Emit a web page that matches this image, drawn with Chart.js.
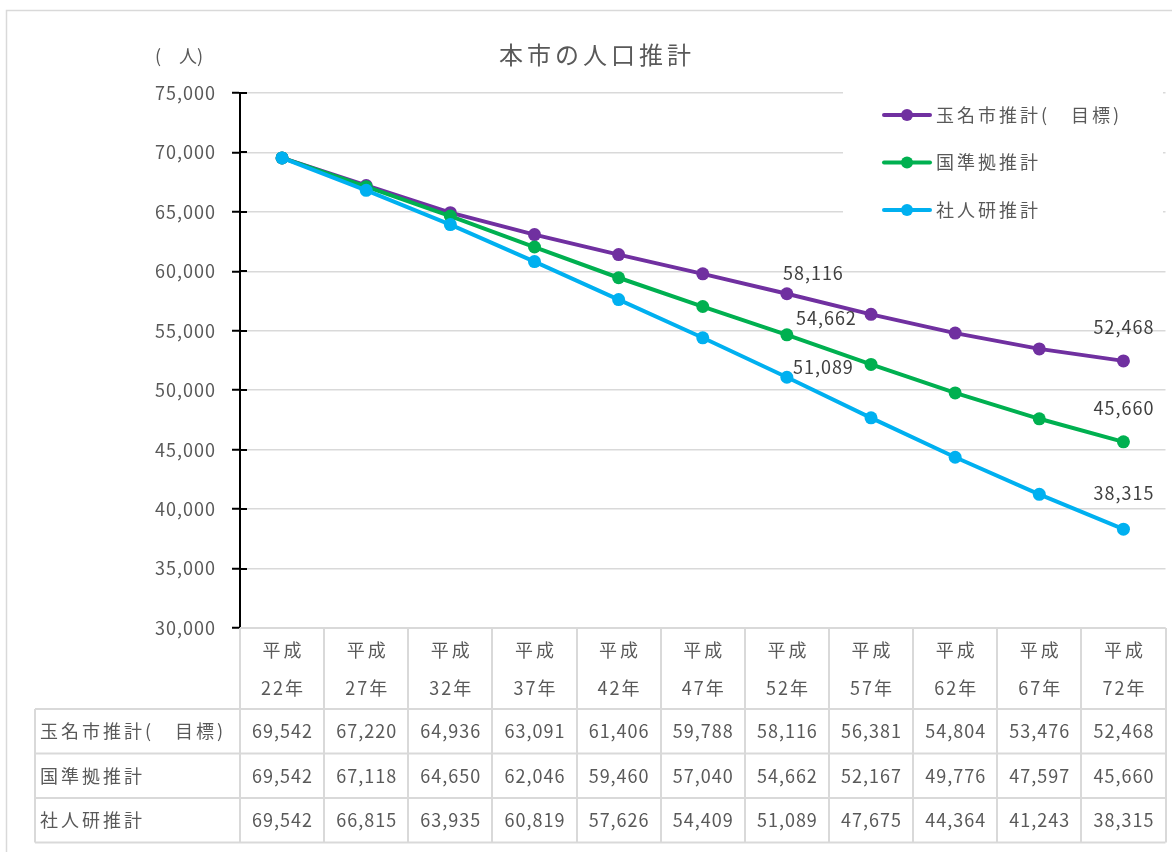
<!DOCTYPE html>
<html lang="ja">
<head>
<meta charset="utf-8">
<title>本市の人口推計</title>
<script src="https://cdn.jsdelivr.net/npm/chart.js@4.4.1/dist/chart.umd.min.js"></script>
<style>
  html, body { margin: 0; padding: 0; background: #fff; }
  #wrap { width: 1172px; height: 852px; position: relative; }
</style>
</head>
<body>
<div id="wrap"><canvas id="popChart" width="1172" height="852"></canvas></div>
<script>
// 年次（平成）
const categories = ['平成22年', '平成27年', '平成32年', '平成37年', '平成42年', '平成47年',
                    '平成52年', '平成57年', '平成62年', '平成67年', '平成72年'];

// 推計人口（人）
const seriesNames = ['玉名市推計(　目標)', '国準拠推計', '社人研推計'];
const tamanaTarget = [69542, 67220, 64936, 63091, 61406, 59788, 58116, 56381, 54804, 53476, 52468];
const nationalBase = [69542, 67118, 64650, 62046, 59460, 57040, 54662, 52167, 49776, 47597, 45660];
const ipssBase     = [69542, 66815, 63935, 60819, 57626, 54409, 51089, 47675, 44364, 41243, 38315];

// 値ラベルを付ける年次（平成52年・平成72年）
const labeledPoints = [6, 10];

// 縦軸目盛
const yTickValues = [30000, 35000, 40000, 45000, 50000, 55000, 60000, 65000, 70000, 75000];

const seriesColors = ['#7030A0', '#00B050', '#00B0F0'];
const FONT = "'Noto Sans CJK JP', 'Noto Sans', sans-serif";
const TEXT = '#595959';
const RULE = '#d9d9d9';

const fmt = v => v.toLocaleString('en-US');

function drawText(ctx, str, x, y, size, align, spacing, color) {
  ctx.save();
  ctx.font = size + 'px ' + FONT;
  ctx.letterSpacing = spacing + 'px';
  ctx.fillStyle = color || TEXT;
  ctx.textAlign = align;
  ctx.textBaseline = 'middle';
  // letterSpacing は末尾にも付くので中央揃え時に半分戻す
  const dx = align === 'center' ? spacing / 2 : (align === 'right' ? spacing : 0);
  ctx.fillText(str, x + dx, y);
  ctx.restore();
}

function hline(ctx, x1, x2, y) {
  ctx.beginPath(); ctx.moveTo(x1, y); ctx.lineTo(x2, y); ctx.stroke();
}
function vline(ctx, x, y1, y2) {
  ctx.beginPath(); ctx.moveTo(x, y1); ctx.lineTo(x, y2); ctx.stroke();
}

// 値ラベルの位置ずらし（系列ごと、[平成52年, 平成72年]）
const labelShift = [
  [[26, -21], [0, -34]],
  [[39, -17], [0, -34]],
  [[36, -10], [0, -36]]
];

const decor = {
  id: 'decor',
  beforeDraw(chart) {
    const ctx = chart.ctx;
    ctx.save();
    ctx.fillStyle = '#fff';
    ctx.fillRect(0, 0, chart.width, chart.height);
    ctx.strokeStyle = RULE;
    ctx.lineWidth = 1.5;
    ctx.strokeRect(6.5, 10.5, chart.width + 20, chart.height + 20);
    ctx.restore();
    ctx.letterSpacing = '1px';
  },
  afterDatasetsDraw(chart) {
    const ctx = chart.ctx;
    const area = chart.chartArea;
    const yScale = chart.scales.y;

    // 縦軸の目盛線（内側分）
    ctx.save();
    ctx.strokeStyle = '#000';
    ctx.lineWidth = 2;
    yTickValues.slice(1).forEach(v => {
      const y = Math.round(yScale.getPixelForValue(v));
      hline(ctx, area.left, area.left + 7, y);
    });
    ctx.restore();

    // 値ラベル
    chart.data.datasets.forEach((ds, di) => {
      const meta = chart.getDatasetMeta(di);
      labeledPoints.forEach((idx, li) => {
        const pt = meta.data[idx];
        const [sx, sy] = labelShift[di][li];
        drawText(ctx, fmt(ds.data[idx]), pt.x + sx, pt.y + sy, 18, 'center', 1, '#404040');
      });
    });

    // 凡例
    ctx.save();
    ctx.fillStyle = '#fff';
    ctx.fillRect(843, 88, 320, 152);
    ctx.restore();
    chart.data.datasets.forEach((ds, i) => {
      const y = 115 + i * 47.5;
      ctx.save();
      ctx.strokeStyle = ds.borderColor;
      ctx.lineWidth = 4;
      ctx.lineCap = 'round';
      hline(ctx, 884, 930, y);
      ctx.fillStyle = ds.borderColor;
      ctx.beginPath(); ctx.arc(907, y, 6, 0, Math.PI * 2); ctx.fill();
      ctx.restore();
      drawText(ctx, ds.label, 936, y, 18, 'left', 3);
    });

    // タイトル・単位
    drawText(ctx, '本市の人口推計', 595, 55, 24, 'center', 4);
    drawText(ctx, '(　人)', 155, 56, 18, 'left', 0);
  },
  afterDraw(chart) {
    const ctx = chart.ctx;
    const area = chart.chartArea;
    const xScale = chart.scales.x;
    const colW = (area.right - area.left) / categories.length;
    const top = area.bottom;
    const headBottom = 709;
    const rowH = 44.5;
    const bottom = headBottom + rowH * 3;
    const tableLeft = 35;

    ctx.save();
    ctx.strokeStyle = RULE;
    ctx.lineWidth = 2;
    hline(ctx, area.left, area.right, top);
    for (let r = 0; r <= 3; r++) hline(ctx, tableLeft, area.right, headBottom + r * rowH);
    vline(ctx, tableLeft, headBottom, bottom);
    for (let c = 0; c <= categories.length; c++) {
      vline(ctx, Math.round(area.left + c * colW), top, bottom);
    }
    ctx.restore();

    // 見出し行（年次）
    categories.forEach((cat, i) => {
      const x = xScale.getPixelForValue(i);
      drawText(ctx, cat.slice(0, 2), x, 650, 18, 'center', 3);
      drawText(ctx, cat.slice(2), x, 688, 18, 'center', 2);
    });

    // データ行
    chart.data.datasets.forEach((ds, r) => {
      const y = headBottom + rowH * r + rowH / 2;
      drawText(ctx, ds.label, 40, y, 18, 'left', 3);
      ds.data.forEach((v, i) => {
        drawText(ctx, fmt(v), xScale.getPixelForValue(i), y, 18, 'center', 1);
      });
    });
  }
};

Chart.defaults.font.family = FONT;

new Chart(document.getElementById('popChart'), {
  type: 'line',
  data: {
    labels: categories,
    datasets: [tamanaTarget, nationalBase, ipssBase].map((vals, i) => ({
      label: seriesNames[i],
      data: vals,
      borderColor: seriesColors[i],
      backgroundColor: seriesColors[i],
      pointBackgroundColor: seriesColors[i],
      borderWidth: 4,
      pointRadius: 6.5,
      pointHoverRadius: 6.5,
      pointBorderWidth: 0,
      tension: 0,
      order: 2 - i  // 社人研推計を最前面に
    }))
  },
  options: {
    responsive: false,
    animation: false,
    events: [],
    layout: { padding: { left: 0, right: 0, top: 93, bottom: 224 } },
    plugins: {
      legend: { display: false },
      title: { display: false },
      tooltip: { enabled: false }
    },
    scales: {
      x: {
        type: 'category',
        display: false,
        offset: true
      },
      y: {
        min: yTickValues[0],
        max: yTickValues[yTickValues.length - 1],
        afterFit(scale) { scale.width = 240; },
        afterBuildTicks(scale) { scale.ticks = yTickValues.map(v => ({ value: v })); },
        border: { display: true, color: '#000', width: 2 },
        grid: {
          color: RULE,
          lineWidth: 1.5,
          drawTicks: true,
          tickLength: 8,
          tickWidth: 2,
          tickColor: '#000'
        },
        ticks: {
          padding: 16,
          color: TEXT,
          font: { size: 18 },
          callback: v => fmt(v)
        }
      }
    }
  },
  plugins: [decor]
});
</script>
</body>
</html>
